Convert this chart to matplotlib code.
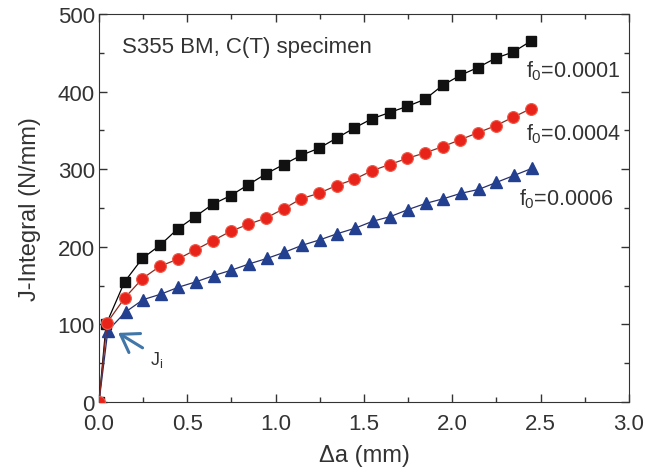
import numpy as np
import matplotlib.pyplot as plt
from matplotlib.ticker import MultipleLocator, FormatStrFormatter

plt.rcParams['font.family'] = ['Liberation Sans', 'DejaVu Sans']
plt.rcParams['mathtext.fontset'] = 'custom'
plt.rcParams['mathtext.rm'] = 'Liberation Sans'
plt.rcParams['mathtext.it'] = 'Liberation Sans'

# crack extension (mm)
da_black = [0, 0.04, 0.145, 0.245, 0.345, 0.445, 0.545, 0.645, 0.745, 0.845, 0.945,
            1.045, 1.145, 1.245, 1.345, 1.445, 1.545, 1.645, 1.745, 1.845, 1.945,
            2.045, 2.145, 2.245, 2.345, 2.445]
j_black = [0, 100, 155, 185, 202, 223, 239, 255, 266, 280, 294,
           306, 318, 327, 340, 353, 365, 373, 381, 390, 408,
           421, 431, 443, 451, 465]

da_red = [0, 0.045, 0.145, 0.245, 0.345, 0.445, 0.545, 0.645, 0.745, 0.845, 0.945,
          1.045, 1.145, 1.245, 1.345, 1.445, 1.545, 1.645, 1.745, 1.845, 1.945,
          2.045, 2.145, 2.245, 2.345, 2.445]
j_red = [0, 102, 134, 159, 175, 184, 196, 208, 220, 229, 237,
         249, 262, 269, 279, 287, 298, 306, 314, 321, 329,
         338, 347, 356, 367, 378]

da_blue = [0, 0.05, 0.15, 0.25, 0.35, 0.45, 0.55, 0.65, 0.75, 0.85, 0.95,
           1.05, 1.15, 1.25, 1.35, 1.45, 1.55, 1.65, 1.75, 1.85, 1.95,
           2.05, 2.15, 2.25, 2.35, 2.45]
j_blue = [0, 92, 116, 132, 139, 148, 155, 163, 170, 178, 185,
          193, 202, 209, 217, 224, 233, 239, 248, 256, 262,
          269, 274, 283, 292, 301]

labels = ['$f_0$=0.0001', '$f_0$=0.0004', '$f_0$=0.0006']

fig = plt.figure(figsize=(6.45, 4.77), dpi=100)
ax = fig.add_axes([0.1535, 0.155, 0.8215, 0.8136])

ax.plot(da_black, j_black, '-', color='black', lw=0.9, marker='s', ms=7,
        mfc='#111111', mec='#111111', zorder=3)
ax.plot(da_blue, j_blue, '-', color='#27306e', lw=0.9, marker='^', ms=8.5,
        mfc='#233f8f', mec='#233f8f', zorder=4)
ax.plot(da_red, j_red, '-', color='#8a2a20', lw=0.9, marker='o', ms=8.5,
        mfc='#e8231a', mec='#f05a4a', mew=0.8, zorder=5)

ax.set_xlim(0, 3.0)
ax.set_ylim(0, 500)
ax.xaxis.set_major_locator(MultipleLocator(0.5))
ax.xaxis.set_minor_locator(MultipleLocator(0.25))
ax.xaxis.set_major_formatter(FormatStrFormatter('%.1f'))
ax.yaxis.set_major_locator(MultipleLocator(100))
ax.yaxis.set_minor_locator(MultipleLocator(50))
ax.tick_params(which='both', direction='in', top=True, right=True, labelsize=16,
               colors='#333333')
ax.tick_params(which='major', length=6, width=1)
ax.tick_params(which='minor', length=3.5, width=1)
ax.tick_params(axis='x', pad=8)
ax.tick_params(axis='y', pad=3)
for s in ax.spines.values():
    s.set_color('#333333')

ax.set_xlabel('Δa (mm)', fontsize=17, color='#333333', labelpad=7)
ax.set_ylabel('J-Integral (N/mm)', fontsize=17, color='#333333', labelpad=12)

ax.text(0.13, 458, 'S355 BM, C(T) specimen', fontsize=16, color='#333333',
        va='center', ha='left')
ax.text(2.42, 428, labels[0], fontsize=15.5, color='#333333', va='center')
ax.text(2.42, 347, labels[1], fontsize=15.5, color='#333333', va='center')
ax.text(2.38, 263, labels[2], fontsize=15.5, color='#333333', va='center')

ax.annotate('', xy=(0.095, 91), xytext=(0.26, 68),
            arrowprops=dict(arrowstyle='->,head_length=0.6,head_width=0.4',
                            color='#4076a8', lw=2.2, mutation_scale=20))
ax.text(0.29, 55, '$J_i$', fontsize=13, color='#333333', va='center')

fig.savefig('out.png', dpi=100)
